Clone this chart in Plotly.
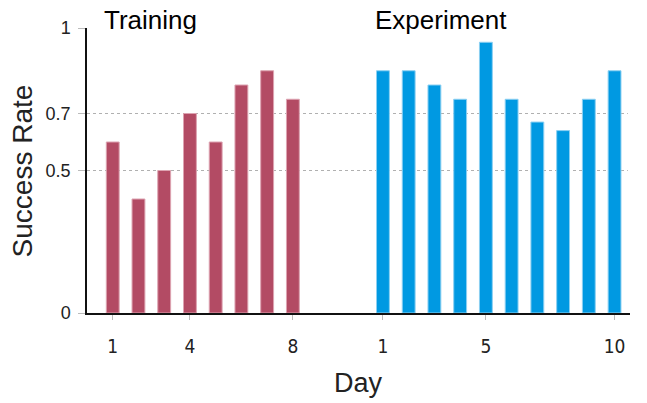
import plotly.graph_objects as go

# ---- data ----
train_days = [1, 2, 3, 4, 5, 6, 7, 8]
train_rate = [0.60, 0.40, 0.50, 0.70, 0.60, 0.80, 0.85, 0.75]
exp_days = [1, 2, 3, 4, 5, 6, 7, 8, 9, 10]
exp_rate = [0.85, 0.85, 0.80, 0.75, 0.95, 0.75, 0.67, 0.64, 0.75, 0.85]
train_tick_days = [1, 4, 8]
exp_tick_days = [1, 5, 10]
y_ticks = [0, 0.5, 0.7, 1]
y_tick_text = ["0", "0.5", "0.7", "1"]
grid_vals = [0.5, 0.7]

# layout helper: experiment days placed after a gap on a shared axis
gap = 2.5
offset = len(train_days) + gap
exp_x = [d + offset for d in exp_days]

tickvals = train_tick_days + [d + offset for d in exp_tick_days]
ticktext = [str(d) for d in train_tick_days] + [str(d) for d in exp_tick_days]

fig = go.Figure()
fig.add_trace(go.Bar(
    x=train_days, y=train_rate, width=0.5,
    marker=dict(color="#B34B64", line=dict(color="#DDA3B1", width=1)),
    name="Training", showlegend=False,
))
fig.add_trace(go.Bar(
    x=exp_x, y=exp_rate, width=0.5,
    marker=dict(color="#0099E2", line=dict(color="#8CD0F2", width=1)),
    name="Experiment", showlegend=False,
))

shapes = []
for g in grid_vals:
    shapes.append(dict(type="line", xref="paper", yref="y", x0=0, x1=0.996,
                       y0=g, y1=g, layer="below",
                       line=dict(color="#B0B0B0", width=1, dash="dot")))

fig.update_layout(
    width=647, height=403,
    margin=dict(l=87, r=17, t=28, b=90),
    plot_bgcolor="white", paper_bgcolor="white",
    font=dict(family="Liberation Sans, Arial, sans-serif", color="#111"),
    shapes=shapes,
    xaxis=dict(
        range=[0, 21.1], tickvals=tickvals, ticktext=ticktext,
        showgrid=False, zeroline=False,
        showline=True, linecolor="#111", linewidth=1.5,
        ticks="outside", ticklen=5, tickcolor="#BBBBBB", tickwidth=1,
        tickfont=dict(family="DejaVu Sans Condensed, DejaVu Sans", size=19, color="#222"),
        ticklabelstandoff=10,
    ),
    yaxis=dict(
        range=[0, 1], tickvals=y_ticks, ticktext=y_tick_text,
        showgrid=False, zeroline=False,
        showline=True, linecolor="#111", linewidth=1.5,
        ticks="outside", ticklen=7, tickcolor="#BBBBBB", tickwidth=1,
        tickfont=dict(family="Liberation Sans, Arial", size=18, color="#222"),
        ticklabelstandoff=4,
    ),
    annotations=[
        dict(text="Training", xref="paper", yref="paper", x=0.0276, y=1.0,
             xanchor="left", yanchor="middle", yshift=8, showarrow=False,
             font=dict(size=26, color="#000")),
        dict(text="Experiment", xref="paper", yref="paper", x=0.527, y=1.0,
             xanchor="left", yanchor="middle", yshift=8, showarrow=False,
             font=dict(size=26, color="#000")),
        dict(text="Success Rate", xref="paper", yref="paper", x=-0.118, y=0.5,
             xanchor="center", yanchor="middle", textangle=-90, showarrow=False,
             font=dict(size=28, color="#222")),
        dict(text="Day", xref="paper", yref="paper", x=0.5, y=-0.245,
             xanchor="center", yanchor="middle", showarrow=False,
             font=dict(size=27, color="#222")),
    ],
)

fig.write_html(
    "out.html",
    config={"displayModeBar": False},
    post_script="document.body.style.margin='0px';document.body.style.overflow='hidden';",
)
